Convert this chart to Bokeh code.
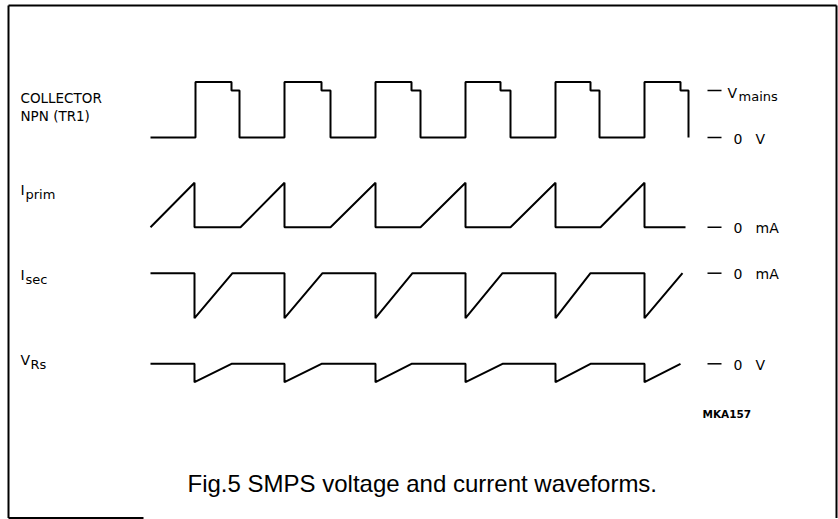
from bokeh.plotting import figure
from bokeh.models import Range1d
from bokeh.core.properties import value
from bokeh.embed import file_html
from bokeh.resources import INLINE

# ---------------- data (time in arbitrary units, levels normalised) ----------------
# Collector voltage of NPN (TR1), in units of V_mains
coll_t = [0, 4.5, 4.5, 8.1, 8.1, 8.9, 8.9,
          13.4, 13.4, 17.1, 17.1, 18.0, 18.0,
          22.5, 22.5, 26.1, 26.1, 27.0, 27.0,
          31.5, 31.5, 35.0, 35.0, 36.0, 36.0,
          40.5, 40.5, 44.0, 44.0, 44.9, 44.9,
          49.4, 49.4, 53.0, 53.0, 53.8, 53.8]
coll_v = [0, 0, 1.18, 1.18, 1.0, 1.0, 0,
          0, 1.18, 1.18, 1.0, 1.0, 0,
          0, 1.18, 1.18, 1.0, 1.0, 0,
          0, 1.18, 1.18, 1.0, 1.0, 0,
          0, 1.18, 1.18, 1.0, 1.0, 0,
          0, 1.18, 1.18, 1.0, 1.0, 0]

# Primary current (normalised to its peak)
iprim_t = [0, 4.4, 4.4, 9.0, 13.4, 13.4, 18.0, 22.5, 22.5, 27.0, 31.5, 31.5,
           36.0, 40.5, 40.5, 45.0, 49.4, 49.4, 53.5]
iprim_v = [0, 1, 0, 0, 1, 0, 0, 1, 0, 0, 1, 0,
           0, 1, 0, 0, 1, 0, 0]

# Secondary current (normalised to its peak)
isec_t = [0, 4.4, 4.4, 8.2, 13.4, 13.4, 17.2, 22.5, 22.5, 26.2, 31.5, 31.5,
          35.2, 40.5, 40.5, 44.0, 49.4, 49.4, 53.2]
isec_v = [0, 0, -1, 0, 0, -1, 0, 0, -1, 0, 0, -1,
          0, 0, -1, 0, 0, -1, 0]

# Voltage across Rs (normalised to its peak)
vrs_t = [0, 4.4, 4.4, 8.1, 13.4, 13.4, 17.1, 22.5, 22.5, 26.1, 31.5, 31.5,
         35.2, 40.5, 40.5, 44.0, 49.4, 49.4, 53.0]
vrs_v = [0, 0, -1, 0, 0, -1, 0, 0, -1, 0, 0, -1,
         0, 0, -1, 0, 0, -1, 0]

caption = "Fig.5  SMPS voltage and current waveforms."
code = "MKA157"

# ---------------- layout helpers ----------------
W, H = 838, 519


def px(x):
    return (x - 150) / 10.0


def py(y):
    return H - y


p = figure(width=W, height=H, output_backend="svg", toolbar_location=None,
           x_range=Range1d(px(0), px(W)), y_range=Range1d(py(H), py(0)),
           x_axis_location=None, y_axis_location=None, min_border=0,
           background_fill_color="white", border_fill_color="white")
p.grid.visible = False
p.outline_line_color = None


def track(vals, zero_y, scale):
    return [py(zero_y) + scale * v for v in vals]


LW = 2
p.line(coll_t, track(coll_v, 137, 47), line_color="black", line_width=LW)
p.line(iprim_t, track(iprim_v, 226.7, 44.4), line_color="black", line_width=LW)
p.line(isec_t, track(isec_v, 272.7, 45), line_color="black", line_width=LW)
p.line(vrs_t, track(vrs_v, 363.3, 18.4), line_color="black", line_width=LW)

# frame
p.segment(x0=[px(8), px(8), px(836), px(8)], y0=[py(5), py(5), py(5), py(517.5)],
          x1=[px(8), px(836), px(836), px(143)], y1=[py(517.5), py(5), py(517.5), py(517.5)],
          line_color="black", line_width=2)

LF = value("DejaVu Sans")


def label(x, y, txt, size="14px", font=LF, style="normal", align="left"):
    p.text(x=[px(x)], y=[py(y)], text=[txt], text_font=font,
           text_font_size=size, text_font_style=style, text_baseline="alphabetic",
           text_align=align, text_color="black")


# left labels
label(20, 97, "COLLECTOR", size="13.5px")
label(20, 115, "NPN (TR1)", size="13.5px")
label(20, 189, "I")
label(25, 194, "prim", size="13px")
label(20, 274, "I")
label(25, 279, "sec", size="13px")
label(20, 359, "V")
label(30, 364, "Rs", size="13px")

# right labels: level marks
mark_levels = [90, 137, 226.7, 272.7, 363.3]
p.segment(x0=[px(707)] * len(mark_levels), y0=[py(v) for v in mark_levels],
          x1=[px(721)] * len(mark_levels), y1=[py(v) for v in mark_levels],
          line_color="black", line_width=1.5)
label(727, 92, "V")
label(738, 96, "mains", size="13px")
label(733, 138, "0")
label(755, 138, "V")
label(733, 227.5, "0")
label(755, 227.5, "mA")
label(733, 273.5, "0")
label(755, 273.5, "mA")
label(733, 364, "0")
label(755, 364, "V")

label(702, 413, code, size="10.5px", style="bold")

label(187, 483, caption, size="24px", font=value("Liberation Sans"))

open("out.html", "w").write(file_html(p, INLINE))
